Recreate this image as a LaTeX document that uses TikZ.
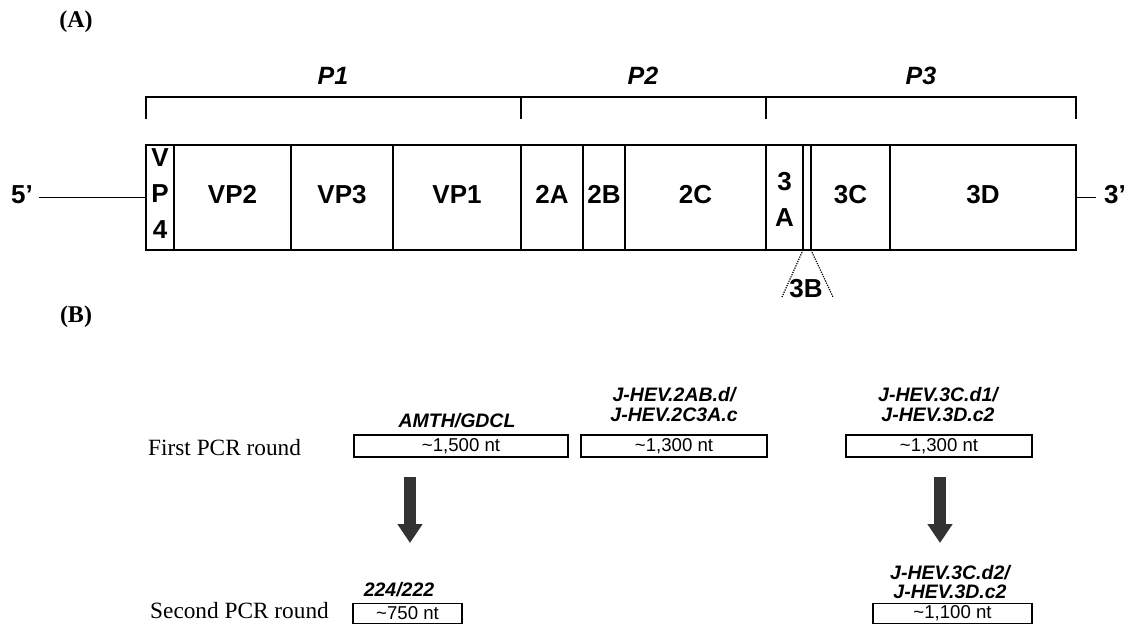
\documentclass[tikz,border=0pt]{standalone}
\usepackage{fontspec}
\setmainfont{Liberation Sans}
\newfontfamily\seriffam{Liberation Serif}
\usetikzlibrary{arrows.meta}
\definecolor{arrowgray}{RGB}{51,51,51}
\begin{document}
\begin{tikzpicture}[x=1pt,y=-1pt,
 seg/.style={draw, line width=1.4pt, minimum height=105pt, inner sep=0pt, outer sep=0pt, anchor=west},
 seglab/.style={font=\fontsize{26}{36}\selectfont\bfseries, inner sep=0pt, align=center},
 plab/.style={font=\fontsize{25}{30}\selectfont\bfseries\itshape, inner sep=0pt},
 secl/.style={font=\seriffam\fontsize{24}{28}\selectfont\bfseries, inner sep=0pt},
 roundl/.style={font=\seriffam\fontsize{23.3}{28}\selectfont, inner sep=0pt, anchor=west},
 primer/.style={font=\fontsize{19.5}{19.5}\selectfont\bfseries\itshape, inner sep=0pt, align=center},
 pcrbox/.style={draw, line width=1.3pt, inner sep=0pt, outer sep=0pt, font=\fontsize{18.6}{20}\selectfont},
 bigarrow/.style={arrowgray, line width=12pt, -{Triangle[width=24pt,length=19pt]}},
 brack/.style={line width=1.4pt},
 thin3b/.style={line width=1.2pt, dash pattern=on 1.2pt off 1.2pt},
]
\useasboundingbox (0,0) rectangle (1136,632);

% section labels
\node[secl] (secA) at (76,22) {(A)};
\node[secl] (secB) at (76,317) {(B)};

% bracket
\draw[brack] (146,119) -- (146,97) -- (1076,97) -- (1076,119);
\draw[brack] (521,97) -- (521,119);
\draw[brack] (766,97) -- (766,119);
\node[plab] (p1) at (333,76) {P1};
\node[plab] (p2) at (643,76) {P2};
\node[plab] (p3) at (921,76) {P3};

% genome segments
\node[seg, minimum width=28pt]  (vp4) at (146,197.5) {};
\node[seg, minimum width=117pt] (vp2) at (vp4.east) {};
\node[seg, minimum width=102pt] (vp3) at (vp2.east) {};
\node[seg, minimum width=128pt] (vp1) at (vp3.east) {};
\node[seg, minimum width=62pt]  (s2a) at (vp1.east) {};
\node[seg, minimum width=42pt]  (s2b) at (s2a.east) {};
\node[seg, minimum width=141pt] (s2c) at (s2b.east) {};
\node[seg, minimum width=37pt]  (s3a) at (s2c.east) {};
\node[seg, minimum width=8pt]   (s3b) at (s3a.east) {};
\node[seg, minimum width=79pt]  (s3c) at (s3b.east) {};
\node[seg, minimum width=186pt] (s3d) at (s3c.east) {};

\node[seglab] (lvp4) at ([yshift=4pt]vp4.center) {V\\P\\4};
\node[seglab] (lvp2) at ([yshift=3pt]vp2.center) {VP2};
\node[seglab] (lvp3) at ([yshift=3pt]vp3.center) {VP3};
\node[seglab] (lvp1) at ([yshift=3pt]vp1.center) {VP1};
\node[seglab] (l2a) at ([yshift=3pt]s2a.center) {2A};
\node[seglab] (l2b) at ([yshift=3pt]s2b.center) {2B};
\node[seglab] (l2c) at ([yshift=3pt]s2c.center) {2C};
\node[seglab] (l3a) at ([yshift=-2pt]s3a.center) {3\\A};
\node[seglab] (l3c) at ([yshift=3pt]s3c.center) {3C};
\node[seglab] (l3d) at ([yshift=3pt]s3d.center) {3D};

% ends
\node[seglab] (five) at (22,195) {5’};
\coordinate (l5) at (39,197.5);
\draw[line width=1.4pt] (l5) -- (vp4.west);
\node[seglab] (three) at (1115,195) {3’};
\coordinate (r3) at (1096,197.5);
\draw[line width=1.4pt] (s3d.east) -- (r3);

% 3B callout
\coordinate (b3l) at (782,297);
\coordinate (b3r) at (833,297);
\draw[thin3b] (s3b.south west) -- (b3l);
\draw[thin3b] (s3b.south east) -- (b3r);
\node[seglab] (l3b) at (806,289) {3B};

% PCR rounds
\node[roundl] (r1) at (148,448) {First PCR round};
\node[roundl] (r2) at (150,611) {Second PCR round};

\node[pcrbox, minimum width=214pt, minimum height=22pt] (b1) at (461,446) {\textasciitilde1,500 nt};
\node[pcrbox, minimum width=186pt, minimum height=22pt] (b2) at (674,446) {\textasciitilde1,300 nt};
\node[pcrbox, minimum width=186pt, minimum height=22pt] (b3) at (939,446) {\textasciitilde1,300 nt};
\node[pcrbox, minimum width=109pt, minimum height=20pt] (b4) at (407.5,613.5) {\textasciitilde750 nt};
\node[pcrbox, minimum width=159pt, minimum height=20pt] (b5) at (952.5,613.5) {\textasciitilde1,100 nt};

\node[primer] (pr1) at (457,421) {AMTH/GDCL};
\node[primer] (pr2) at (674,404.5) {J-HEV.2AB.d/\\J-HEV.2C3A.c};
\node[primer] (pr3) at (938,404.5) {J-HEV.3C.d1/\\J-HEV.3D.c2};
\node[primer] (pr4) at (399,590) {224/222};
\node[primer] (pr5) at (950,582) {J-HEV.3C.d2/\\J-HEV.3D.c2};

% arrows
\coordinate (a1s) at (410,477);
\coordinate (a1e) at (410,543);
\coordinate (a2s) at (940,477);
\coordinate (a2e) at (940,543);
\draw[bigarrow] (a1s) -- (a1e);
\draw[bigarrow] (a2s) -- (a2e);
\end{tikzpicture}
\end{document}
